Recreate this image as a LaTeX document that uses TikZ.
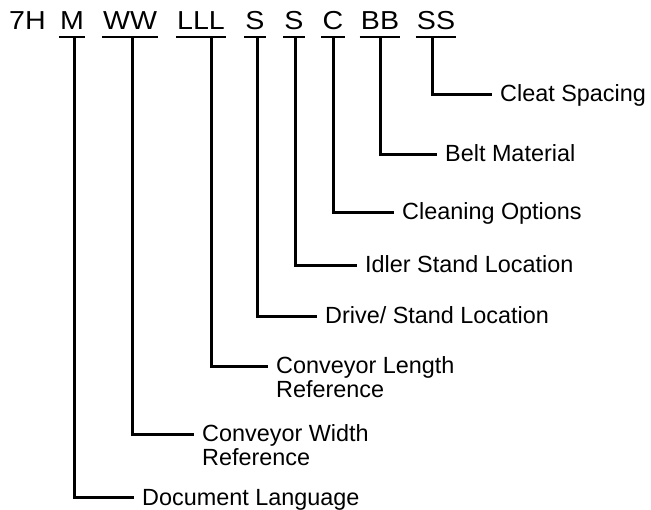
\documentclass[tikz,border=0pt]{standalone}
\usepackage{fontspec}
\setmainfont{Liberation Sans}
\begin{document}
\begin{tikzpicture}[x=1pt,y=-1pt,
  tok/.style={inner xsep=1pt, inner ysep=0pt, anchor=base, font=\fontsize{26}{30}\selectfont},
  lab/.style={inner sep=0pt, anchor=base west, font=\fontsize{23.4}{26}\selectfont},
  conn/.style={line width=3pt},
  ul/.style={line width=2pt}]
\useasboundingbox (0,0) rectangle (651,510);
% code tokens
\node[tok] (t7h) at (27.5,30) {\scalebox{1.1}[1]{7H}};
\node[tok] (tm)  at (72,30)  {\scalebox{1.1}[1]{M}};
\node[tok] (tw)  at (130,30) {\scalebox{1.1}[1]{WW}};
\node[tok] (tl)  at (201,30) {\scalebox{1.1}[1]{LLL}};
\node[tok] (ts1) at (255,30) {\scalebox{1.1}[1]{S}};
\node[tok] (ts2) at (294,30) {\scalebox{1.1}[1]{S}};
\node[tok] (tc)  at (333,30) {\scalebox{1.1}[1]{C}};
\node[tok] (tb)  at (380,30) {\scalebox{1.1}[1]{BB}};
\node[tok] (tss) at (436,30) {\scalebox{1.1}[1]{SS}};
\foreach \t in {tm,tw,tl,ts1,ts2,tc,tb,tss}
  \draw[ul] ([yshift=-7.5pt]\t.base west) -- ([yshift=-7.5pt]\t.base east);
% connector tops
\coordinate (cm)  at (74,38);
\coordinate (cw)  at (132,38);
\coordinate (cl)  at (211,38);
\coordinate (cs1) at (257,38);
\coordinate (cs2) at (295,38);
\coordinate (cc)  at (333,38);
\coordinate (cb)  at (380,38);
\coordinate (css) at (432,38);
% labels
\node[lab] (lss) at (500,102) {Cleat Spacing};
\node[lab] (lb)  at (445,162) {Belt Material};
\node[lab] (lc)  at (402,220) {Cleaning Options};
\node[lab] (ls2) at (365,273) {Idler Stand Location};
\node[lab] (ls1) at (325,324) {Drive/ Stand Location};
\node[lab] (ll)  at (276,374) {Conveyor Length};
\node[lab] (ll2) at (276,398) {Reference};
\node[lab] (lw)  at (202,442) {Conveyor Width};
\node[lab] (lw2) at (202,466) {Reference};
\node[lab] (lm)  at (142,505) {Document Language};
% connectors
\foreach \c/\l in {css/lss,cb/lb,cc/lc,cs2/ls2,cs1/ls1,cl/ll,cw/lw,cm/lm}
  \draw[conn] (\c) |- ([xshift=-8pt,yshift=7pt]\l.base west);
\end{tikzpicture}
\end{document}
